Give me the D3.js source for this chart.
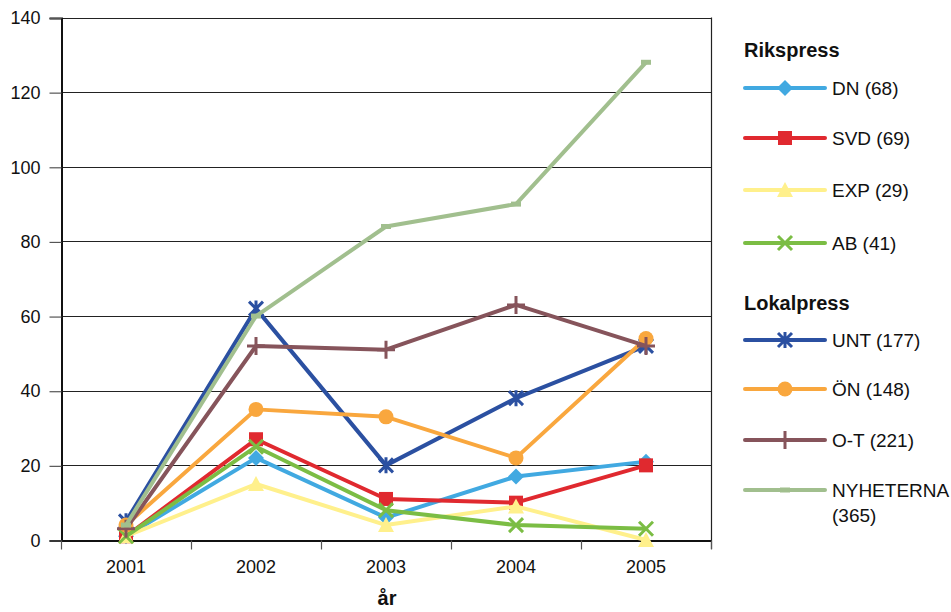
<!DOCTYPE html>
<html>
<head>
<meta charset="utf-8">
<script src="https://cdn.jsdelivr.net/npm/d3@7"></script>
<style>
  body { margin: 0; background: #fff; }
  svg { font-family: "Liberation Sans", Arial, sans-serif; }
</style>
</head>
<body>
<div id="chart"></div>
<script>
// data
var years = ["2001", "2002", "2003", "2004", "2005"];
var yTicks = [0, 20, 40, 60, 80, 100, 120, 140];

var dn   = [1, 22, 6, 17, 21];
var svd  = [1, 27, 11, 10, 20];
var exp  = [1, 15, 4, 9, 0];
var ab   = [1, 25, 8, 4, 3];
var unt  = [5, 62, 20, 38, 52];
var on   = [4, 35, 33, 22, 54];
var ot   = [3, 52, 51, 63, 52];
var nyh  = [4, 60, 84, 90, 128];

var seriesNames  = ["DN (68)", "SVD (69)", "EXP (29)", "AB (41)", "UNT (177)", "ÖN (148)", "O-T (221)", "NYHETERNA|(365)"];
var seriesValues = [dn, svd, exp, ab, unt, on, ot, nyh];
var seriesColors = ["#41a9e1", "#e0292f", "#fff08c", "#7bbd44", "#2b50a1", "#f9a73e", "#86545b", "#a1bf8e"];
var seriesMarks  = ["diamond", "square", "triangle", "x", "star", "circle", "plus", "dash"];
var groupTitles  = ["Rikspress", "Lokalpress"];

var width = 951, height = 612;
var margin = {top: 17.5, left: 61, right: 240, bottom: 72};

var svg = d3.select("#chart")
    .append("svg")
    .attr("width", width)
    .attr("height", height);

var x = d3.scaleBand()
    .domain(years)
    .range([margin.left, width - margin.right]);

var y = d3.scaleLinear()
    .domain([0, 140])
    .range([height - margin.bottom, margin.top]);

// gridlines
svg.append("g")
    .selectAll("line")
    .data(yTicks)
    .enter()
    .append("line")
    .attr("x1", margin.left)
    .attr("x2", width - margin.right)
    .attr("y1", d => Math.round(y(d)) + 0.5)
    .attr("y2", d => Math.round(y(d)) + 0.5)
    .attr("stroke", "#222")
    .attr("stroke-width", 1.2);

// right border of plot
svg.append("line")
    .attr("x1", width - margin.right + 0.5)
    .attr("x2", width - margin.right + 0.5)
    .attr("y1", y(140))
    .attr("y2", y(0) + 9)
    .attr("stroke", "#222")
    .attr("stroke-width", 1.2);

// y axis
var yAxis = svg.append("g")
    .attr("transform", "translate(" + (margin.left + 0.5) + ",0.5)")
    .call(d3.axisLeft(y).tickValues(yTicks).tickSize(12).tickPadding(9));
yAxis.select(".domain").attr("stroke", "#111").attr("stroke-width", 2);
yAxis.selectAll(".tick line").attr("stroke", "#555").attr("stroke-width", 1.2);
yAxis.selectAll("text").style("font-size", "18px").attr("fill", "#111");

// x axis
var xAxis = svg.append("g")
    .attr("transform", "translate(0," + (Math.round(y(0)) + 0.5) + ")")
    .call(d3.axisBottom(x).tickSize(0).tickPadding(20));
xAxis.select(".domain").attr("stroke", "#111").attr("stroke-width", 2);
xAxis.selectAll("text").style("font-size", "18px").attr("fill", "#111");

// boundary ticks between the categories
var bounds = years.map(d => x(d)).concat([x.range()[1]]);
xAxis.selectAll(".bound")
    .data(bounds)
    .enter()
    .append("line")
    .attr("class", "bound")
    .attr("x1", d => Math.round(d) + 0.5)
    .attr("x2", d => Math.round(d) + 0.5)
    .attr("y1", 0)
    .attr("y2", 9)
    .attr("stroke", "#555")
    .attr("stroke-width", 1.2);

svg.append("text")
    .attr("x", 387)
    .attr("y", 605)
    .attr("text-anchor", "middle")
    .style("font-size", "20px")
    .style("font-weight", "bold")
    .attr("fill", "#111")
    .text("år");

// marker drawing
function drawMarker(g, type, color) {
    var s = 7;
    if (type == "diamond") {
        g.append("path").attr("d", "M0,-8L8,0L0,8L-8,0Z").attr("fill", color);
    } else if (type == "square") {
        g.append("rect").attr("x", -s).attr("y", -s).attr("width", 2 * s).attr("height", 2 * s).attr("fill", color);
    } else if (type == "triangle") {
        g.append("path").attr("d", "M0,-8L8,7L-8,7Z").attr("fill", color);
    } else if (type == "circle") {
        g.append("circle").attr("r", 7.5).attr("fill", color);
    } else if (type == "x") {
        g.append("path").attr("d", "M-7,-7L7,7M-7,7L7,-7").attr("stroke", color).attr("stroke-width", 3);
    } else if (type == "star") {
        g.append("path").attr("d", "M-7,-7L7,7M-7,7L7,-7M0,-8L0,8").attr("stroke", color).attr("stroke-width", 3);
    } else if (type == "plus") {
        g.append("path").attr("d", "M-9,0L9,0M0,-9L0,9").attr("stroke", color).attr("stroke-width", 3);
    } else if (type == "dash") {
        g.append("rect").attr("x", -5).attr("y", -2.5).attr("width", 10).attr("height", 5).attr("fill", color);
    }
}

var line = d3.line()
    .x((d, i) => x(years[i]) + x.bandwidth() / 2)
    .y(d => y(d));

seriesValues.forEach(function (vals, k) {
    var g = svg.append("g");
    g.append("path")
        .datum(vals)
        .attr("d", line)
        .attr("fill", "none")
        .attr("stroke", seriesColors[k])
        .attr("stroke-width", 4)
        .attr("stroke-linejoin", "round");
    vals.forEach(function (v, i) {
        var m = g.append("g")
            .attr("transform", "translate(" + (x(years[i]) + x.bandwidth() / 2) + "," + y(v) + ")");
        drawMarker(m, seriesMarks[k], seriesColors[k]);
    });
});

// legend
var legend = svg.append("g").attr("transform", "translate(744,0)");
var titleY = [50, 303];
var rowY = [88, 138, 190, 243, 340, 389, 440, 490];

groupTitles.forEach(function (t, i) {
    legend.append("text")
        .attr("x", 0)
        .attr("y", titleY[i])
        .attr("dy", "0.35em")
        .style("font-size", "20px")
        .style("font-weight", "bold")
        .attr("fill", "#111")
        .text(t);
});

seriesNames.forEach(function (name, k) {
    var row = legend.append("g").attr("transform", "translate(0," + rowY[k] + ")");
    row.append("line")
        .attr("x1", 1).attr("x2", 81)
        .attr("stroke", seriesColors[k])
        .attr("stroke-width", 4)
        .attr("stroke-linecap", "round");
    drawMarker(row.append("g").attr("transform", "translate(41,0)"), seriesMarks[k], seriesColors[k]);
    name.split("|").forEach(function (part, j) {
        row.append("text")
            .attr("x", 88)
            .attr("y", j * 25)
            .attr("dy", "0.36em")
            .style("font-size", "19px")
            .attr("fill", "#111")
            .text(part);
    });
});
</script>
</body>
</html>
